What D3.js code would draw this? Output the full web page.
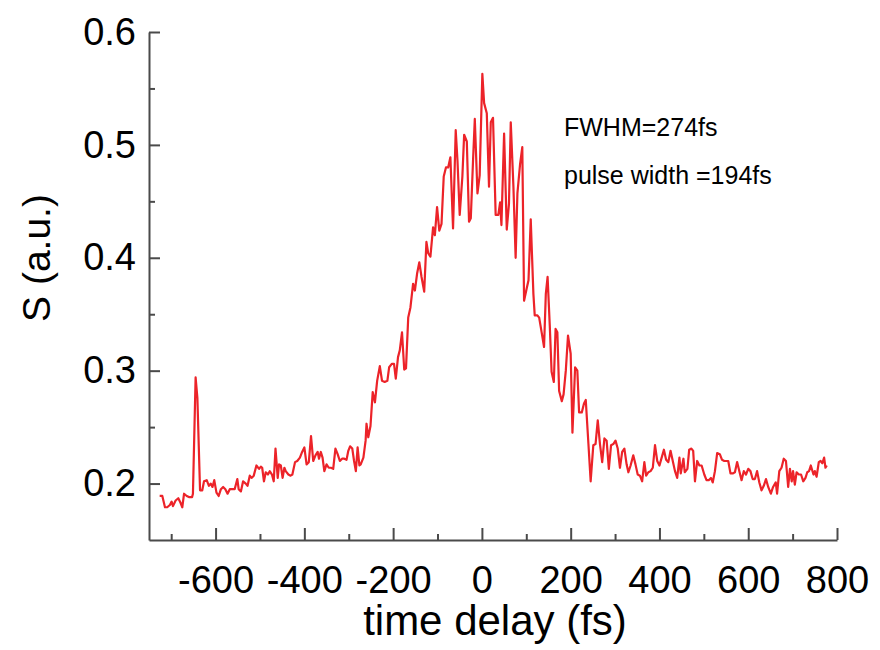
<!DOCTYPE html>
<html>
<head>
<meta charset="utf-8">
<script src="https://cdn.jsdelivr.net/npm/d3@7"></script>
<style>
  body { margin: 0; background: #fff; }
  svg { font-family: "Liberation Sans", Arial, sans-serif; }
</style>
</head>
<body>
<div id="chart"></div>
<script>
// time delay (fs) and signal S (a.u.)
const delay = [
  -726, -720, -714, -709, -703, -699, -696, -690, -684, -679, -675, -671, -665, -660, -653, -651,
  -645, -641, -635, -630, -626, -620, -615, -611, -607, -603, -598, -593, -588, -583, -578, -573,
  -568, -563, -557, -551, -548, -543, -538, -532, -528, -523, -519, -514, -508, -502, -498, -495,
  -491, -487, -482, -478, -473, -469, -465, -460, -457, -453, -449, -445, -442, -436, -431, -427,
  -421, -416, -410, -405, -400, -395, -390, -385, -380, -375, -370, -367, -363, -359, -355, -350,
  -345, -340, -335, -330, -325, -320, -315, -310, -305, -301, -297, -292, -288, -284, -280, -276,
  -273, -267, -262, -260, -256, -251, -246, -241, -236, -230, -225, -219, -213, -209, -203, -198,
  -194, -189, -185, -180, -175, -171, -166, -161, -155, -151, -146, -141, -136, -130, -125, -121,
  -116, -110, -106, -101, -96, -91, -86, -81, -76, -71, -65, -59, -55, -50, -44, -40,
  -34, -29, -25, -20, -16, -10, -5, 1, 5, 11, 16, 20, 25, 31, 37, 41,
  44, 50, 56, 61, 65, 71, 76, 80, 86, 91, 95, 101, 105, 110, 116, 119,
  125, 129, 135, 140, 144, 148, 153, 157, 162, 166, 170, 174, 180, 184, 189, 194,
  200, 204, 210, 215, 219, 225, 230, 234, 240, 245, 251, 256, 261, 266, 271, 276,
  281, 286, 291, 296, 301, 306, 311, 316, 321, 326, 330, 335, 341, 346, 351, 356,
  361, 366, 370, 375, 380, 385, 390, 395, 400, 405, 410, 415, 420, 425, 430, 435,
  440, 445, 448, 454, 457, 463, 467, 472, 476, 480, 485, 490, 495, 501, 506, 511,
  516, 520, 525, 530, 536, 541, 546, 551, 555, 560, 565, 570, 575, 580, 585, 590,
  595, 600, 605, 610, 615, 620, 625, 630, 635, 640, 645, 651, 656, 662, 665, 670,
  675, 680, 685, 690, 694, 698, 701, 705, 709, 714, 719, 724, 729, 733, 737, 741,
  747, 750, 754, 759, 763, 767, 771, 774, 777
];
const signal = [
  0.189, 0.189, 0.179, 0.179, 0.181, 0.184, 0.180, 0.185, 0.187, 0.183, 0.179, 0.191, 0.189, 0.188, 0.188, 0.191,
  0.294, 0.276, 0.194, 0.194, 0.202, 0.203, 0.198, 0.200, 0.197, 0.203, 0.192, 0.189, 0.195, 0.197, 0.195, 0.191,
  0.195, 0.195, 0.195, 0.204, 0.195, 0.193, 0.202, 0.200, 0.198, 0.207, 0.205, 0.207, 0.216, 0.213, 0.215, 0.214,
  0.202, 0.210, 0.208, 0.211, 0.208, 0.202, 0.231, 0.205, 0.217, 0.216, 0.205, 0.214, 0.211, 0.208, 0.207, 0.208,
  0.219, 0.220, 0.223, 0.228, 0.232, 0.217, 0.219, 0.242, 0.220, 0.225, 0.228, 0.222, 0.228, 0.223, 0.211, 0.217,
  0.214, 0.214, 0.213, 0.231, 0.226, 0.220, 0.222, 0.222, 0.221, 0.229, 0.233, 0.231, 0.220, 0.211, 0.232, 0.216,
  0.217, 0.223, 0.238, 0.253, 0.241, 0.251, 0.281, 0.272, 0.291, 0.304, 0.291, 0.290, 0.291, 0.303, 0.306, 0.306,
  0.293, 0.312, 0.318, 0.334, 0.301, 0.302, 0.347, 0.356, 0.377, 0.371, 0.386, 0.396, 0.383, 0.370, 0.414, 0.404,
  0.401, 0.427, 0.420, 0.445, 0.424, 0.430, 0.472, 0.480, 0.480, 0.489, 0.426, 0.513, 0.486, 0.438, 0.472, 0.509,
  0.503, 0.432, 0.435, 0.486, 0.523, 0.457, 0.473, 0.563, 0.537, 0.528, 0.463, 0.520, 0.524, 0.438, 0.438, 0.449,
  0.429, 0.510, 0.425, 0.448, 0.520, 0.463, 0.400, 0.457, 0.483, 0.498, 0.362, 0.373, 0.380, 0.434, 0.368, 0.349,
  0.349, 0.347, 0.333, 0.321, 0.368, 0.383, 0.339, 0.299, 0.290, 0.337, 0.334, 0.282, 0.273, 0.279, 0.300, 0.331,
  0.315, 0.245, 0.303, 0.300, 0.263, 0.263, 0.271, 0.274, 0.235, 0.202, 0.234, 0.235, 0.256, 0.235, 0.219, 0.240,
  0.238, 0.213, 0.234, 0.235, 0.238, 0.231, 0.214, 0.228, 0.231, 0.217, 0.210, 0.216, 0.225, 0.217, 0.208, 0.207,
  0.202, 0.219, 0.207, 0.210, 0.211, 0.214, 0.234, 0.220, 0.216, 0.223, 0.230, 0.221, 0.219, 0.229, 0.220, 0.211,
  0.205, 0.223, 0.209, 0.222, 0.210, 0.213, 0.230, 0.231, 0.229, 0.202, 0.220, 0.216, 0.216, 0.208, 0.203, 0.203,
  0.205, 0.201, 0.211, 0.227, 0.226, 0.221, 0.220, 0.220, 0.220, 0.209, 0.209, 0.210, 0.219, 0.211, 0.203, 0.211,
  0.208, 0.213, 0.211, 0.204, 0.204, 0.211, 0.201, 0.194, 0.198, 0.204, 0.197, 0.191, 0.197, 0.201, 0.191, 0.211,
  0.214, 0.222, 0.220, 0.197, 0.213, 0.202, 0.211, 0.199, 0.210, 0.208, 0.208, 0.202, 0.205, 0.210, 0.211, 0.216,
  0.208, 0.211, 0.206, 0.219, 0.220, 0.218, 0.223, 0.214, 0.216
];

const xMajor = [-600, -400, -200, 0, 200, 400, 600, 800];
const xMinor = [-700, -500, -300, -100, 100, 300, 500, 700];
const yMajor = [0.2, 0.3, 0.4, 0.5, 0.6];
const yMinor = [0.25, 0.35, 0.45, 0.55];
const notes = ["FWHM=274fs", "pulse width =194fs"];

const data = delay.map((t, i) => ({ t, s: signal[i] }));

const W = 880, H = 650;
const margin = { top: 32, right: 43, bottom: 110, left: 149 };
const width = W - margin.left - margin.right;
const height = H - margin.top - margin.bottom;

const svg = d3.select("#chart").append("svg")
  .attr("width", W)
  .attr("height", H);

const g = svg.append("g")
  .attr("transform", `translate(${margin.left},${margin.top})`);

const x = d3.scaleLinear().domain([-750, 800]).range([0, width]);
const y = d3.scaleLinear().domain([0.15, 0.6]).range([height, 0]);

const axisColor = "#4a4a4a";

// minor ticks
g.append("g")
  .attr("transform", `translate(0,${height})`)
  .call(d3.axisBottom(x).tickValues(xMinor).tickSize(-6).tickFormat(""))
  .call(a => a.select(".domain").remove());
g.append("g")
  .call(d3.axisLeft(y).tickValues(yMinor).tickSize(-6).tickFormat(""))
  .call(a => a.select(".domain").remove());

// major axes, ticks pointing inward; plain hyphen for negatives
g.append("g")
  .attr("transform", `translate(0,${height})`)
  .call(d3.axisBottom(x).tickValues(xMajor).tickSize(-12).tickSizeOuter(0)
    .tickPadding(26).tickFormat(d => String(d)));

g.append("g")
  .call(d3.axisLeft(y).tickValues(yMajor).tickSize(-11).tickSizeOuter(0)
    .tickPadding(13).tickFormat(d3.format(".1f")));

g.selectAll(".tick line, .domain")
  .attr("stroke", axisColor)
  .attr("stroke-width", 2);

g.selectAll(".tick text")
  .attr("fill", "#000")
  .style("font-size", "38px")
  .style("font-family", "'Liberation Sans', Arial, sans-serif");

// signal trace
const line = d3.line().x(d => x(d.t)).y(d => y(d.s));

g.append("path")
  .datum(data)
  .attr("fill", "none")
  .attr("stroke", "#ec2329")
  .attr("stroke-width", 2.2)
  .attr("stroke-linejoin", "round")
  .attr("d", line);

// axis titles
svg.append("text")
  .attr("x", 495)
  .attr("y", 635)
  .attr("text-anchor", "middle")
  .style("font-size", "42px")
  .text("time delay (fs)");

svg.append("text")
  .attr("transform", "translate(50,258) rotate(-90)")
  .attr("text-anchor", "middle")
  .style("font-size", "39px")
  .text("S (a.u.)");

// annotations
svg.selectAll("text.note")
  .data(notes)
  .enter()
  .append("text")
  .attr("class", "note")
  .attr("x", 564)
  .attr("y", (d, i) => 136 + i * 48)
  .style("font-size", "25px")
  .text(d => d);
</script>
</body>
</html>
